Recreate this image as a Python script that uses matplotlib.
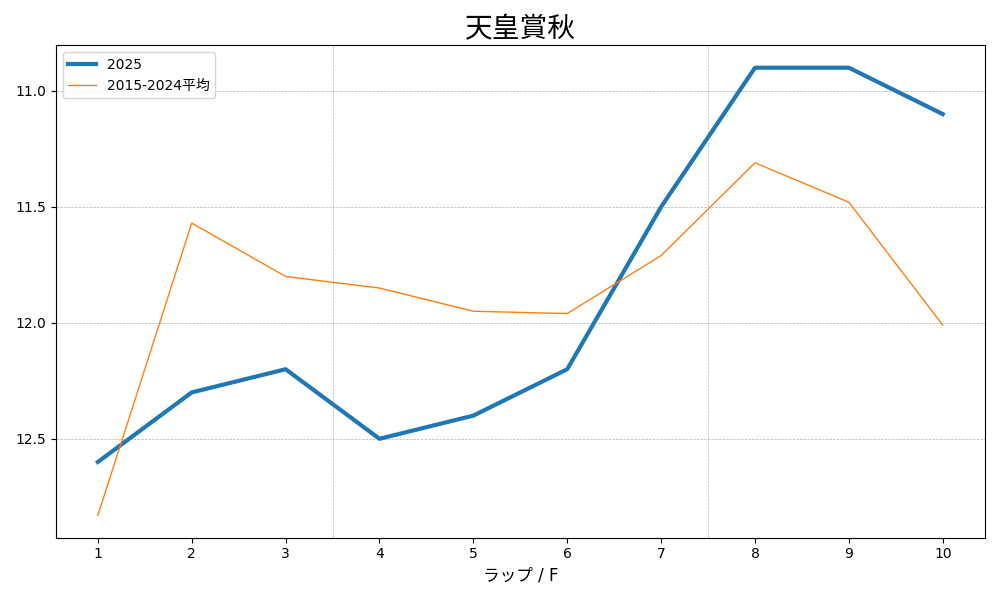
import matplotlib
matplotlib.use("Agg")
import matplotlib.pyplot as plt

plt.rcParams['font.family'] = ['DejaVu Sans', 'Noto Sans CJK JP']

laps = [1, 2, 3, 4, 5, 6, 7, 8, 9, 10]
lap_2025 = [12.6, 12.3, 12.2, 12.5, 12.4, 12.2, 11.5, 10.9, 10.9, 11.1]
lap_avg = [12.83, 11.57, 11.80, 11.85, 11.95, 11.96, 11.71, 11.31, 11.48, 12.01]
section_marks = [3.5, 7.5]

fig, ax = plt.subplots(figsize=(10, 6), dpi=100)
ax.plot(laps, lap_2025, linewidth=3, color='#1f77b4', label='2025')
ax.plot(laps, lap_avg, linewidth=1, color='#ff7f0e', label='2015-2024平均')

for x in section_marks:
    ax.axvline(x, color='gray', linestyle='--', linewidth=0.5, alpha=0.5)

ax.invert_yaxis()
ax.set_xticks(laps)
ax.set_yticks([11.0, 11.5, 12.0, 12.5])
ax.grid(axis='y', linestyle='--', linewidth=0.5)
ax.set_xlabel('ラップ / F', fontsize=12)
ax.set_title('天皇賞秋', fontsize=20)
ax.legend(loc='upper left')

plt.tight_layout()
plt.savefig('out.png')
